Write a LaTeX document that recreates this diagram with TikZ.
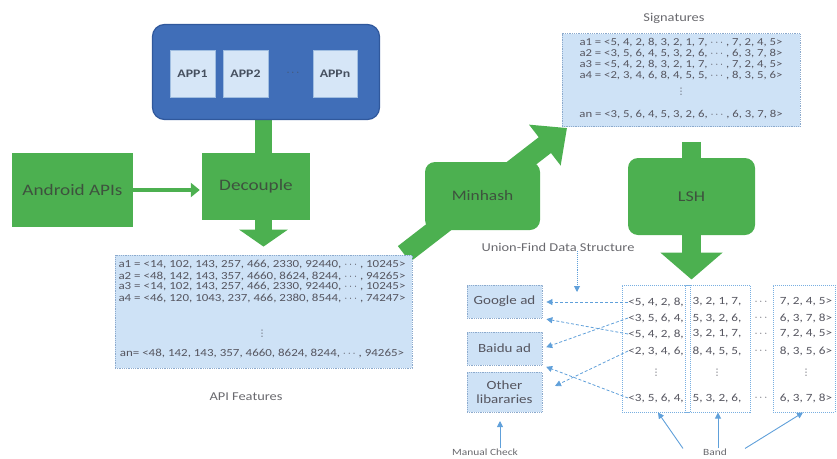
\documentclass[tikz,border=0pt]{standalone}
\usepackage{fontspec}
\setmainfont{Carlito}[FakeStretch=1.2]
\newfontfamily\dvsans{DejaVu Sans}
\usetikzlibrary{arrows.meta,calc,backgrounds}
\definecolor{appblue}{RGB}{64,110,184}
\definecolor{appblueD}{RGB}{48,88,156}
\definecolor{appin}{RGB}{214,230,247}
\definecolor{appinD}{RGB}{160,190,225}
\definecolor{apptext}{RGB}{70,80,95}
\definecolor{grn}{RGB}{76,176,80}
\definecolor{gtext}{RGB}{62,82,62}
\definecolor{lb}{RGB}{206,226,246}
\definecolor{lbD}{RGB}{140,170,205}
\definecolor{bandD}{RGB}{120,175,225}
\definecolor{dblue}{RGB}{96,160,218}
\definecolor{txt}{RGB}{85,85,95}
\definecolor{lblc}{RGB}{105,105,110}
\begin{document}
\begin{tikzpicture}[x=1pt,y=-1pt,
  outer/.style={draw=appblueD, fill=appblue, rounded corners=12pt, line width=1.2pt, minimum width=227pt, minimum height=95pt},
  appbox/.style={draw=appinD, line width=0.6pt, fill=appin, minimum width=45pt, minimum height=47pt, inner sep=0pt, font=\bfseries\fontsize{11.5}{13}\selectfont, text=apptext},
  gbox/.style={fill=grn, inner sep=0pt, text=gtext},
  databox/.style={fill=lb, draw=lbD, densely dotted, line width=0.8pt, inner sep=0pt},
  bandcol/.style={draw=bandD, densely dotted, line width=1pt, inner sep=0pt, minimum height=127pt},
  apiline/.style={inner sep=0pt, font=\fontsize{10.8}{11}\selectfont, text=txt},
  sigline/.style={inner sep=0pt, font=\fontsize{10.6}{11}\selectfont, text=txt},
  rowtxt/.style={inner sep=0pt, font=\fontsize{11}{12}\selectfont, text=txt},
  vdt/.style={inner sep=0pt, font=\dvsans\fontsize{9}{10}\selectfont, text=txt},
  libbox/.style={databox, minimum width=75pt, font=\fontsize{12.5}{14}\selectfont, text=txt, align=center},
  lbl/.style={inner sep=0pt, text=lblc, font=\fontsize{12}{14}\selectfont},
  smlbl/.style={inner sep=0pt, text=lblc, font=\fontsize{9.5}{11}\selectfont},
  bigarrow/.style={draw=grn, line width=#1},
  linkarrow/.style={draw=dblue, densely dashed, line width=0.8pt, -{Triangle[length=6pt,width=6pt]}, shorten >=4pt},
  bandarrow/.style={draw=dblue, line width=0.9pt, -{Triangle[length=6pt,width=6pt]}},
]
\useasboundingbox (0,0) rectangle (837,458);

% ---------- apps ----------
\node[outer] (apps) at (266,72) {};
\node[appbox] (app1) at (192.5,73.5) {APP1};
\node[appbox] (app2) at (245.5,73.5) {APP2};
\node[inner sep=0pt, text=apptext, font=\bfseries\fontsize{11}{12}\selectfont] (appdots) at (293,73) {$\cdots$};
\node[appbox, minimum width=44pt] (appn) at (335,73.5) {APPn};

% ---------- green boxes ----------
\node[gbox, font=\fontsize{16}{18}\selectfont, minimum width=121pt, minimum height=74pt] (android) at (72.5,190) {Android APIs};
\node[gbox, font=\fontsize{16}{18}\selectfont, minimum width=108pt, minimum height=67pt] (decouple) at (256,186.5) {Decouple};
\node[gbox, font=\fontsize{14.5}{16}\selectfont, rounded corners=10pt, minimum width=115pt, minimum height=68pt] (minhash) at (482.5,196) {Minhash};
\node[gbox, font=\fontsize{15}{17}\selectfont, rounded corners=10pt, minimum width=127pt, minimum height=77pt] (lsh) at (691.5,196.5) {LSH};

% ---------- API features ----------
\node[databox, minimum width=297pt, minimum height=113pt] (api) at (263.5,311.5) {};
\node[apiline] (api1) at (262,265) {a1 = <14, 102, 143, 257, 466, 2330, 92440, $\cdots$ , 10245>};
\node[apiline] (api2) at (262,276) {a2 = <48, 142, 143, 357, 4660, 8624, 8244, $\cdots$ , 94265>};
\node[apiline] (api3) at (262,287) {a3 = <14, 102, 143, 257, 466, 2330, 92440, $\cdots$ , 10245>};
\node[apiline] (api4) at (262,298) {a4 = <46, 120, 1043, 237, 466, 2380, 8544, $\cdots$ , 74247>};
\node[vdt] (apiv) at (262,334) {⋮};
\node[apiline] (apin) at (262,353) {an= <48, 142, 143, 357, 4660, 8624, 8244, $\cdots$ , 94265>};
\node[lbl] (apilbl) at (246,397) {API Features};

% ---------- Signatures ----------
\node[lbl] (siglbl) at (674,18) {Signatures};
\node[databox, minimum width=238pt, minimum height=93pt] (sig) at (681,80) {};
\node[sigline] (sig1) at (681,43) {a1 = <5, 4, 2, 8, 3, 2, 1, 7, $\cdots$ , 7, 2, 4, 5>};
\node[sigline] (sig2) at (681,54) {a2 = <3, 5, 6, 4, 5, 3, 2, 6, $\cdots$ , 6, 3, 7, 8>};
\node[sigline] (sig3) at (681,65) {a3 = <5, 4, 2, 8, 3, 2, 1, 7, $\cdots$ , 7, 2, 4, 5>};
\node[sigline] (sig4) at (681,76) {a4 = <2, 3, 4, 6, 8, 4, 5, 5, $\cdots$ , 8, 3, 5, 6>};
\node[vdt] (sigv) at (681,92) {⋮};
\node[sigline] (sign) at (681,115) {an = <3, 5, 6, 4, 5, 3, 2, 6, $\cdots$ , 6, 3, 7, 8>};

% ---------- libraries ----------
\node[lbl] (uf) at (558,247) {Union-Find Data Structure};
\node[libbox, minimum height=33pt] (google) at (504.5,301.5) {Google ad};
\node[libbox, minimum height=33pt] (baidu) at (504.5,348.5) {Baidu ad};
\node[libbox, minimum height=40pt] (other) at (504.5,392) {Other\\libararies};
\node[smlbl] (mc) at (485,452) {Manual Check};
\coordinate (ufend) at (577,292);
\coordinate (mcend) at (500,421);

% ---------- bands ----------
\node[bandcol, minimum width=68pt] (col1) at (656,348.5) {};
\node[bandcol, minimum width=65pt] (col2) at (717.5,348.5) {};
\node[bandcol, minimum width=62pt] (col3) at (804,348.5) {};
\node[smlbl] (band) at (715,452) {Band};

\foreach \n/\y/\a/\b/\c in {1/302/{<5, 4, 2, 8,}/{3, 2, 1, 7,}/{7, 2, 4, 5>},
                            2/318/{<3, 5, 6, 4,}/{5, 3, 2, 6,}/{6, 3, 7, 8>},
                            3/334/{<5, 4, 2, 8,}/{3, 2, 1, 7,}/{7, 2, 4, 5>},
                            4/351/{<2, 3, 4, 6,}/{8, 4, 5, 5,}/{8, 3, 5, 6>},
                            6/398/{<3, 5, 6, 4,}/{5, 3, 2, 6,}/{6, 3, 7, 8>}}{
  \node[rowtxt] (r\n a) at (656,\y) {\a};
  \node[rowtxt] (r\n b) at (717,\y) {\b};
  \node[rowtxt] (r\n d) at (761,\y) {$\cdots$};
  \node[rowtxt] (r\n c) at (806,\y) {\c};
}
\node[vdt] (r5a) at (656,373) {⋮};
\node[vdt] (r5b) at (717,373) {⋮};
\node[vdt] (r5c) at (806,373) {⋮};

% ---------- big green arrows (behind) ----------
\coordinate (mhs) at (404,254);
\coordinate (mhe) at (567,128);
\begin{scope}[on background layer]
  \draw[bigarrow=17pt] (apps.south -| api.north) -- (api.north |- decouple.center);
  \draw[bigarrow=17pt, -{Triangle[length=17pt,width=48pt]}] (api.north |- decouple.center) -- ([yshift=8pt]api.north);
  \draw[bigarrow=20pt, -{Triangle[length=28pt,width=50pt]}] (mhs) -- (mhe);
  \draw[bigarrow=19pt] ([yshift=-15pt]lsh.north |- sig.south) -- (lsh.center);
  \draw[bigarrow=19pt, -{Triangle[length=27pt,width=61pt]}] (lsh.center) -- ([yshift=5pt]lsh.center |- col1.north);
\end{scope}
\draw[draw=grn, line width=4pt, -{Triangle[length=9pt,width=14pt]}, shorten >=2pt] (android.east) -- (android.east -| decouple.west);

% ---------- link arrows ----------
\draw[linkarrow] (r1a.west) -- (google.east |- r1a.west);
\draw[linkarrow] (r3a.west) -- (google.south east);
\draw[linkarrow] (r2a.west) -- (baidu.east);
\draw[linkarrow] (r6a.west) -- (baidu.south east);
\draw[linkarrow, shorten >=14pt] (r4a.west) -- (other.east);
\draw[draw=dblue, densely dotted, line width=0.9pt, -{Triangle[length=6pt,width=6pt]}] (uf.south -| ufend) -- (ufend);
\draw[bandarrow] (mc.north -| mcend) -- (mcend);
\draw[bandarrow] ([xshift=-32pt]band.north) -- ([xshift=2pt]col1.south);
\draw[bandarrow] ([xshift=3pt]band.north) -- ([xshift=3pt]band.north |- col2.south);
\draw[bandarrow] ([xshift=30pt]band.north) -- ([xshift=-1pt]col3.south);
\end{tikzpicture}
\end{document}
